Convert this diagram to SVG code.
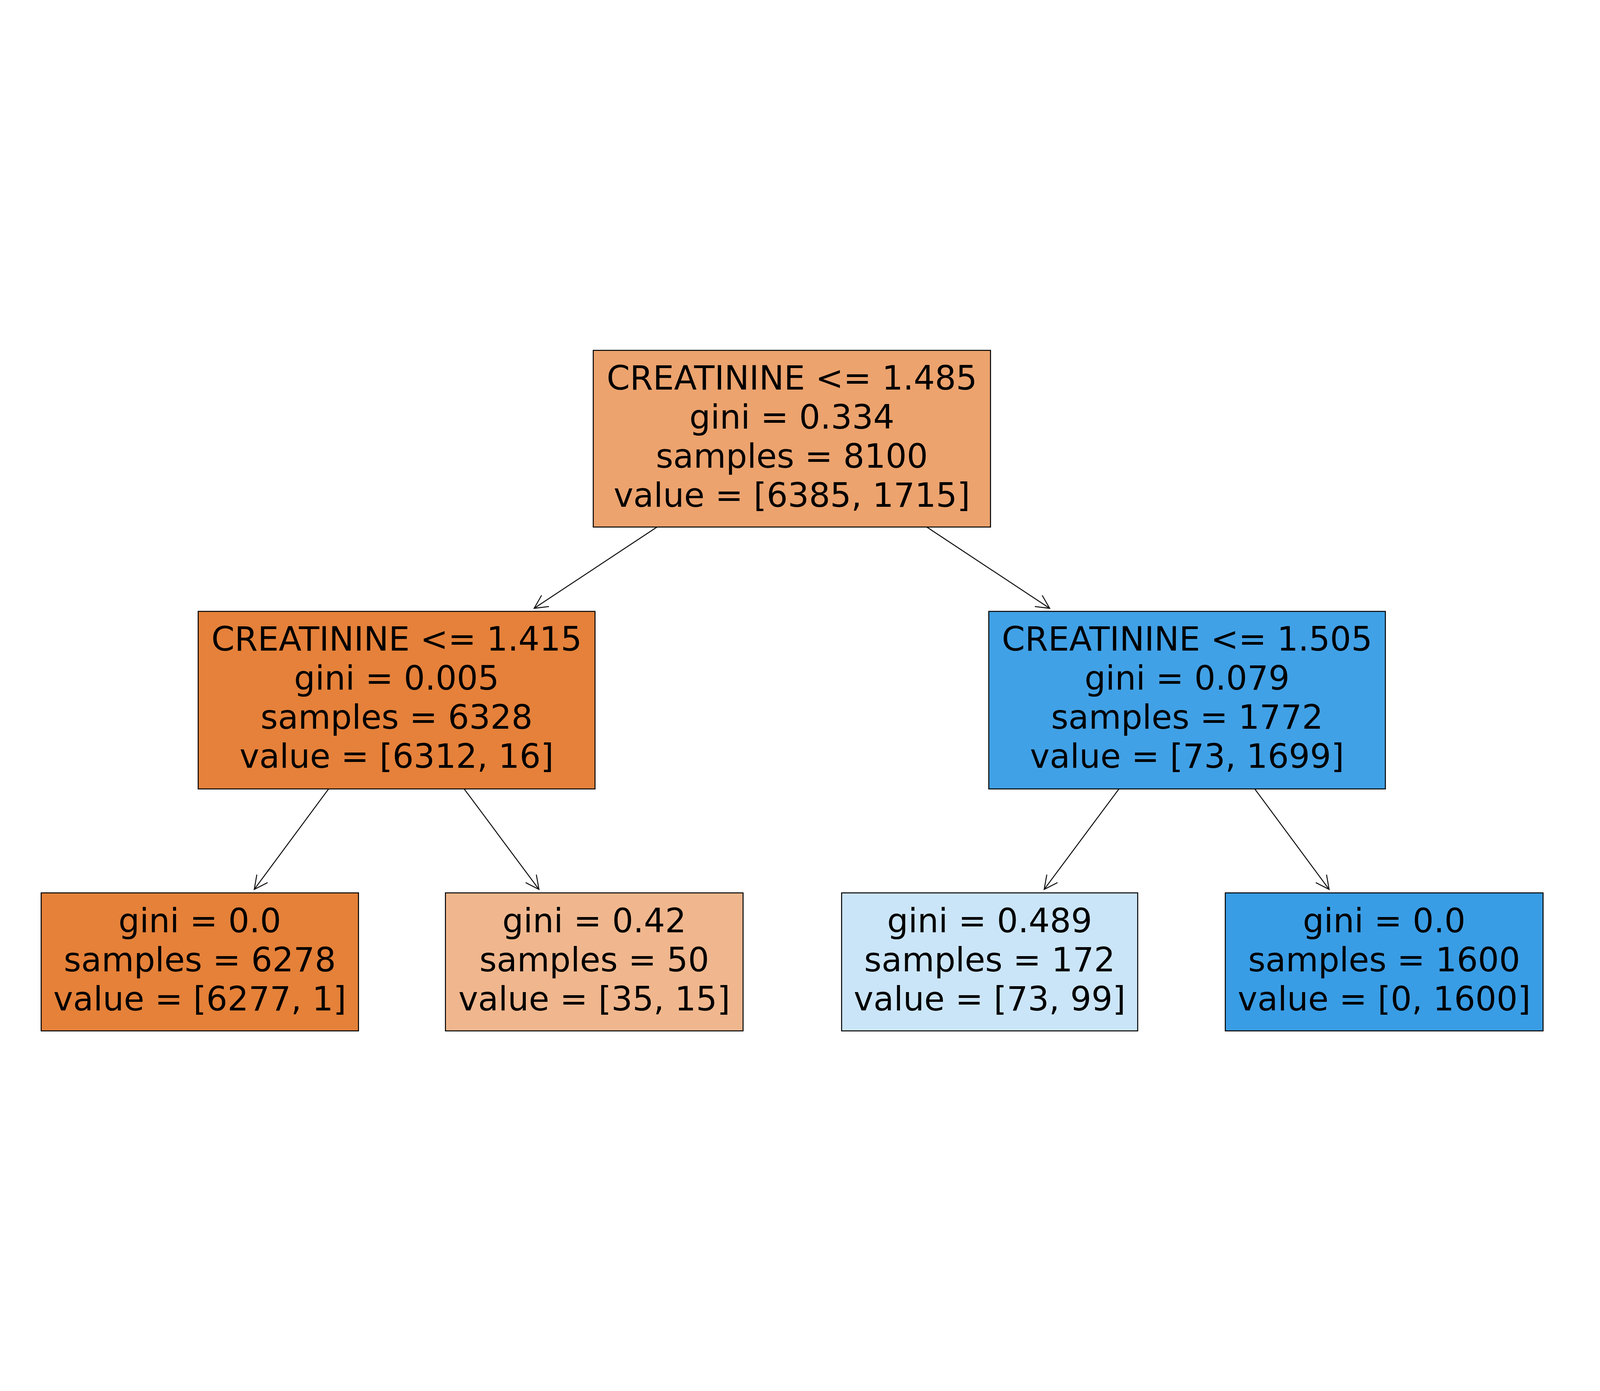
<svg xmlns="http://www.w3.org/2000/svg" width="7306" height="3560" viewBox="0 0 7306 3560">
<style>
svg{width:100vw;height:100vh}
.box{stroke:#000;stroke-width:4.5}
.t{font-family:"DejaVu Sans","Liberation Sans",sans-serif;font-size:152px;fill:#000;text-anchor:middle}
.edge{stroke:#111;stroke-width:4.5;fill:none}
</style>
<defs>
<marker id="ah" markerUnits="userSpaceOnUse" orient="auto" markerWidth="200" markerHeight="200" refX="0" refY="0" viewBox="-100 -100 200 200" overflow="visible">
<path d="M -61 -30.5 L 0 0 L -61 30.5" fill="none" stroke="#111" stroke-width="4.5"/>
</marker>
</defs>
<rect width="7306" height="3560" fill="#fff"/>
<g id="connectors">
<line class="edge" x1="3000" y1="1011" x2="2439" y2="1382" marker-end="url(#ah)"/>
<line class="edge" x1="4232" y1="1011" x2="4793" y2="1382" marker-end="url(#ah)"/>
<line class="edge" x1="1500" y1="2207" x2="1161" y2="2665" marker-end="url(#ah)"/>
<line class="edge" x1="2120" y1="2207" x2="2461" y2="2665" marker-end="url(#ah)"/>
<line class="edge" x1="5109" y1="2207" x2="4768" y2="2665" marker-end="url(#ah)"/>
<line class="edge" x1="5730" y1="2207" x2="6069" y2="2665" marker-end="url(#ah)"/>
</g>
<g id="node0">
<rect class="box" x="2709" y="204.5" width="1814" height="806.5" fill="#eca36e"/>
<text class="t" x="3616" y="384">CREATININE &lt;= 1.485</text>
<text class="t" x="3616" y="562">gini = 0.334</text>
<text class="t" x="3616" y="740">samples = 8100</text>
<text class="t" x="3616" y="919">value = [6385, 1715]</text>
</g>
<g id="node1">
<rect class="box" x="905" y="1396" width="1812" height="810.5" fill="#e5813a"/>
<text class="t" x="1811" y="1575.5">CREATININE &lt;= 1.415</text>
<text class="t" x="1811" y="1754">gini = 0.005</text>
<text class="t" x="1811" y="1932">samples = 6328</text>
<text class="t" x="1811" y="2110.5">value = [6312, 16]</text>
</g>
<g id="node4">
<rect class="box" x="4515" y="1396" width="1811" height="810.5" fill="#41a1e6"/>
<text class="t" x="5420.5" y="1575.5">CREATININE &lt;= 1.505</text>
<text class="t" x="5420.5" y="1754">gini = 0.079</text>
<text class="t" x="5420.5" y="1932">samples = 1772</text>
<text class="t" x="5420.5" y="2110.5">value = [73, 1699]</text>
</g>
<g id="node2">
<rect class="box" x="188" y="2681" width="1449" height="630" fill="#e58139"/>
<text class="t" x="912.5" y="2860.5">gini = 0.0</text>
<text class="t" x="912.5" y="3039">samples = 6278</text>
<text class="t" x="912.5" y="3217">value = [6277, 1]</text>
</g>
<g id="node3">
<rect class="box" x="2034" y="2681" width="1359" height="630" fill="#f0b78e"/>
<text class="t" x="2713.5" y="2860.5">gini = 0.42</text>
<text class="t" x="2713.5" y="3039">samples = 50</text>
<text class="t" x="2713.5" y="3217">value = [35, 15]</text>
</g>
<g id="node5">
<rect class="box" x="3843" y="2681" width="1352" height="630" fill="#cbe5f8"/>
<text class="t" x="4519" y="2860.5">gini = 0.489</text>
<text class="t" x="4519" y="3039">samples = 172</text>
<text class="t" x="4519" y="3217">value = [73, 99]</text>
</g>
<g id="node6">
<rect class="box" x="5595" y="2681" width="1451" height="630" fill="#399de5"/>
<text class="t" x="6320.5" y="2860.5">gini = 0.0</text>
<text class="t" x="6320.5" y="3039">samples = 1600</text>
<text class="t" x="6320.5" y="3217">value = [0, 1600]</text>
</g>
</svg>
